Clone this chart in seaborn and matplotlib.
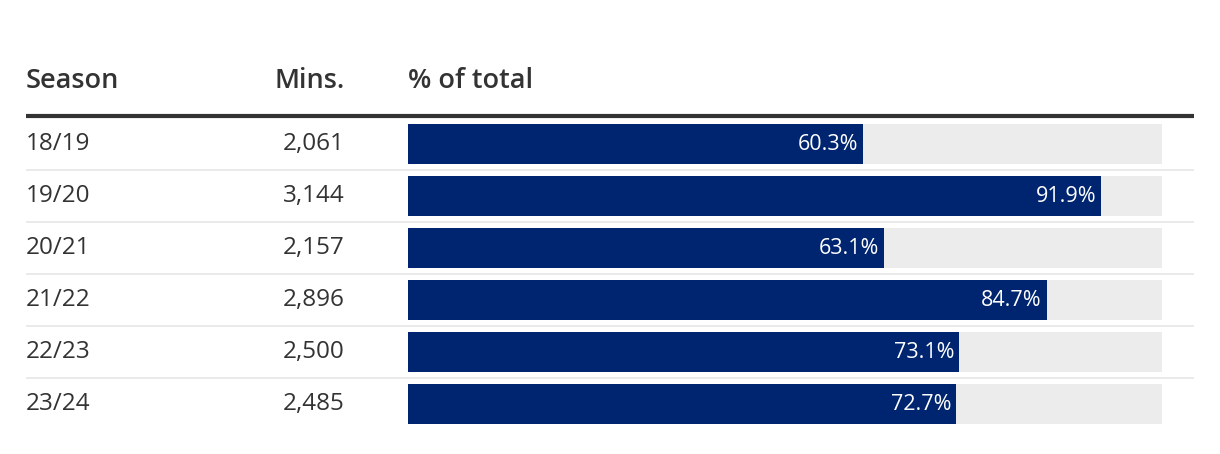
import matplotlib
matplotlib.use("Agg")
import matplotlib.pyplot as plt
import matplotlib.transforms as mtransforms
import seaborn as sns
import pandas as pd

seasons = ["18/19", "19/20", "20/21", "21/22", "22/23", "23/24"]
minutes = [2061, 3144, 2157, 2896, 2500, 2485]
percent = [60.3, 91.9, 63.1, 84.7, 73.1, 72.7]
headers = ["Season", "Mins.", "% of total"]

NAVY = "#002570"
BG = "#ececec"
DARK = "#333333"
TEXT = "#333333"

sns.set_theme(style="white")
plt.rcParams['font.family'] = ['Open Sans', 'DejaVu Sans']

W, H = 1220, 454
fig = plt.figure(figsize=(W / 100, H / 100), dpi=100)
left, right = 408 / W, 1162 / W
top_px, bot_px = 118, 430
ax = fig.add_axes([left, 1 - bot_px / H, right - left, (bot_px - top_px) / H])

df = pd.DataFrame({"season": seasons, "pct": percent, "full": [100] * len(seasons)})
sns.barplot(data=df, x="full", y="season", orient="h", color=BG, width=40 / 52,
            saturation=1, ax=ax, order=seasons, linewidth=0, edgecolor="none")
sns.barplot(data=df, x="pct", y="season", orient="h", color=NAVY, width=40 / 52,
            saturation=1, ax=ax, order=seasons, linewidth=0, edgecolor="none")
ax.set_xlim(0, 100)
ax.set_ylim(len(seasons) - 0.5, -0.5)
ax.set_axis_off()

blend = mtransforms.blended_transform_factory(fig.transFigure, ax.transData)
x0, x1 = 26 / W, 1194 / W

# thick header rule
ax.plot([x0, x1], [-0.54, -0.54], transform=blend, color=DARK, lw=3.0,
        clip_on=False, solid_capstyle="butt")
# separators
for i in range(len(seasons) - 1):
    ax.plot([x0, x1], [i + 0.5, i + 0.5], transform=blend, color="#e6e6e6",
            lw=1.2, clip_on=False, solid_capstyle="butt")

fs = 17.5
for i, (s, m, p) in enumerate(zip(seasons, minutes, percent)):
    ax.text(26 / W, i, s, transform=blend, ha="left", va="center",
            fontsize=fs, color=TEXT, fontweight="normal")
    ax.text(345 / W, i, f"{m:,}", transform=blend, ha="right", va="center",
            fontsize=fs, color=TEXT, fontweight="normal")
    ax.annotate(f"{p}%", xy=(p, i), xytext=(-3.5, 0), textcoords="offset points",
                ha="right", va="center", fontsize=15.5, color="white",
                fontweight="normal")

hy = 1 - 81 / H
hfs = 19.5
fig.text(26 / W, hy, headers[0], ha="left", va="center", fontsize=hfs,
         color=TEXT, fontweight="semibold")
fig.text(345 / W, hy, headers[1], ha="right", va="center", fontsize=hfs,
         color=TEXT, fontweight="semibold")
fig.text(408 / W, hy, headers[2], ha="left", va="center", fontsize=hfs,
         color=TEXT, fontweight="semibold")

fig.savefig("out.png", dpi=100)
